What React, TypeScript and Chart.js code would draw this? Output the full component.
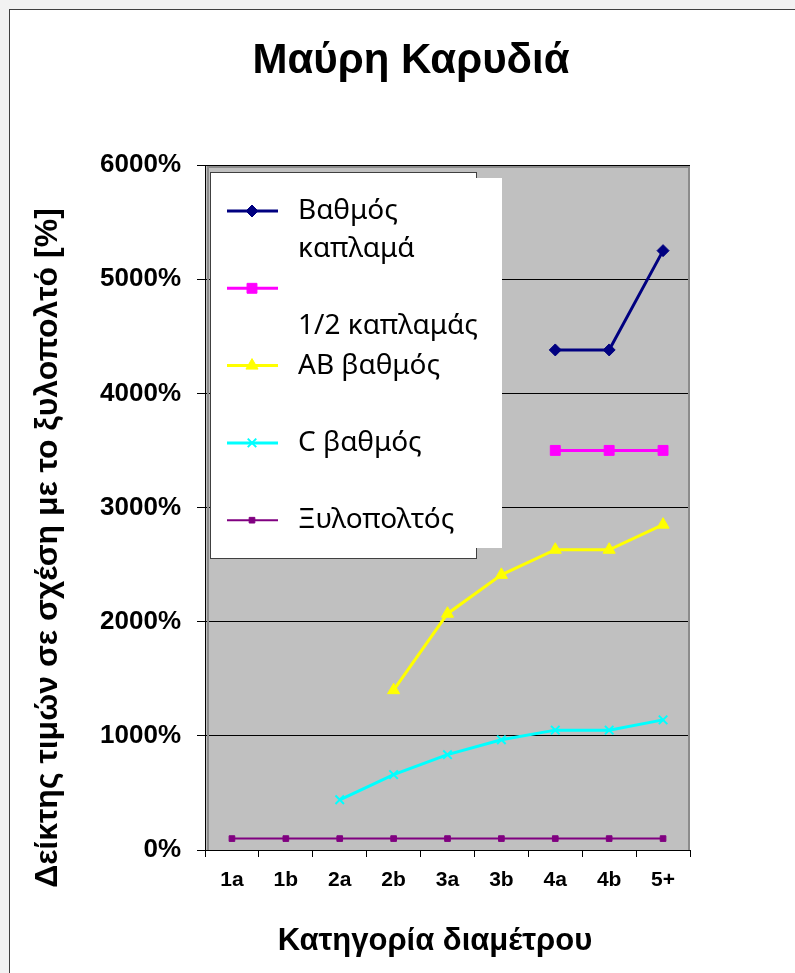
import React, { useEffect, useRef } from 'react';
import { Chart, registerables } from 'chart.js';
import { drawPoint } from 'chart.js/helpers';

Chart.register(...registerables);

const categories = ['1a', '1b', '2a', '2b', '3a', '3b', '4a', '4b', '5+'];
const veneerGrade = [null, null, null, null, null, null, 4380, 4380, 5250];
const halfVeneer = [null, null, null, null, null, null, 3500, 3500, 3500];
const abGrade = [null, null, null, 1400, 2070, 2410, 2630, 2630, 2850];
const cGrade = [null, null, 440, 660, 835, 965, 1050, 1050, 1140];
const pulpwood = [100, 100, 100, 100, 100, 100, 100, 100, 100];
const seriesNames = ['Βαθμός καπλαμά', '1/2 καπλαμάς', 'AB βαθμός', 'C βαθμός', 'Ξυλοπολτός'];
const legendLines = [['Βαθμός', 'καπλαμά'], ['', '1/2 καπλαμάς'], ['AB βαθμός'], ['C βαθμός'], ['Ξυλοπολτός']];
const yMin = 0;
const yMax = 6000;
const yStep = 1000;
const chartTitle = 'Μαύρη Καρυδιά';
const xTitle = 'Κατηγορία διαμέτρου';
const yTitle = 'Δείκτης τιμών σε σχέση με το ξυλοπολτό [%]';

const SANS = '"Liberation Sans", Arial, sans-serif';
const LEGEND_FONT = '"Noto Sans", "Open Sans", sans-serif';

const decor = {
  id: 'decor',
  beforeDraw(chart: any) {
    const { ctx, chartArea: a } = chart;
    ctx.save();
    ctx.fillStyle = '#C0C0C0';
    ctx.fillRect(a.left, a.top, a.right - a.left, a.bottom - a.top);
    ctx.restore();
  },
  afterDatasetsDraw(chart: any) {
    const { ctx, chartArea: a } = chart;
    ctx.save();
    // plot frame (gray)
    ctx.strokeStyle = '#8C8C8C';
    ctx.lineWidth = 2;
    ctx.beginPath();
    ctx.moveTo(a.left + 3, a.bottom);
    ctx.lineTo(a.left + 3, a.top + 2);
    ctx.lineTo(a.right - 1, a.top + 2);
    ctx.lineTo(a.right - 1, a.bottom);
    ctx.stroke();

    // legend
    ctx.fillStyle = '#FFFFFF';
    ctx.fillRect(210, 172, 266, 386);
    ctx.strokeStyle = '#404040';
    ctx.lineWidth = 1;
    ctx.strokeRect(210.5, 172.5, 266, 386);
    ctx.fillStyle = '#FFFFFF';
    ctx.fillRect(475, 178, 27, 370);

    chart.data.datasets.forEach((ds: any, i: number) => {
      const y = 211 + i * 77.3;
      ctx.strokeStyle = ds.borderColor;
      ctx.lineWidth = ds.borderWidth;
      ctx.beginPath();
      ctx.moveTo(227, y);
      ctx.lineTo(278, y);
      ctx.stroke();
      ctx.fillStyle = ds.pointBackgroundColor;
      ctx.strokeStyle = ds.pointBorderColor;
      ctx.lineWidth = ds.pointBorderWidth;
      drawPoint(ctx, { pointStyle: ds.pointStyle, radius: ds.pointRadius, rotation: 0, borderWidth: ds.pointBorderWidth }, 252, y);
      ctx.fillStyle = '#000';
      ctx.font = `28px ${LEGEND_FONT}`;
      ctx.textAlign = 'left';
      ctx.textBaseline = 'middle';
      legendLines[i].forEach((line, j) => {
        ctx.fillText(line, 298, y + j * 38);
      });
    });
    ctx.restore();
  },
  afterDraw(chart: any) {
    const { ctx } = chart;
    ctx.save();
    ctx.fillStyle = '#000';
    ctx.textAlign = 'center';
    ctx.textBaseline = 'alphabetic';
    ctx.font = `bold 42px ${SANS}`;
    ctx.fillText(chartTitle, 411, 73);
    ctx.font = `bold 31px ${SANS}`;
    ctx.fillText(xTitle, 435, 950);
    ctx.translate(57, 548);
    ctx.rotate(-Math.PI / 2);
    ctx.font = `bold 32px ${SANS}`;
    ctx.fillText(yTitle, 0, 0);
    ctx.restore();
  },
};

export default function App() {
  const ref = useRef<HTMLCanvasElement | null>(null);
  useEffect(() => {
    if (!ref.current) return;
    const mk = (label: string, data: any[], color: string, style: string, radius: number, width: number, pbw: number) => ({
      label,
      data,
      borderColor: color,
      backgroundColor: color,
      pointBackgroundColor: color,
      pointBorderColor: color,
      pointStyle: style,
      pointRadius: radius,
      pointBorderWidth: pbw,
      borderWidth: width,
      tension: 0,
      spanGaps: false,
      fill: false,
    });
    const chart = new Chart(ref.current, {
      type: 'line',
      data: {
        labels: categories,
        datasets: [
          mk(seriesNames[0], veneerGrade, '#000080', 'rectRot', 6, 3, 1),
          mk(seriesNames[1], halfVeneer, '#FF00FF', 'rect', 7, 3, 1),
          mk(seriesNames[2], abGrade, '#FFFF00', 'triangle', 7, 3, 1),
          mk(seriesNames[3], cGrade, '#00FFFF', 'crossRot', 6, 3, 2),
          mk(seriesNames[4], pulpwood, '#800080', 'rect', 4, 2, 1),
        ] as any,
      },
      options: {
        animation: false,
        responsive: false,
        layout: { padding: { top: 165, right: 105, bottom: 0, left: 0 } },
        plugins: {
          legend: { display: false },
          title: { display: false },
          tooltip: { enabled: false },
        },
        scales: {
          x: {
            type: 'category',
            offset: true,
            grid: { offset: true, drawOnChartArea: false, drawTicks: true, tickLength: 7, color: '#000', lineWidth: 1 },
            border: { color: '#000', width: 1 },
            ticks: { font: { family: SANS, size: 21, weight: 'bold' }, color: '#000', padding: 11, maxRotation: 0, autoSkip: false },
            afterFit: (s: any) => { s.height = 123; },
          },
          y: {
            min: yMin,
            max: yMax,
            ticks: { stepSize: yStep, callback: (v: any) => `${v}%`, font: { family: SANS, size: 26, weight: 'bold' }, color: '#000', padding: 16 },
            grid: { color: '#000', tickLength: 8, lineWidth: 1 },
            border: { color: '#000', width: 1 },
            afterFit: (s: any) => { s.width = 205; },
          },
        },
      } as any,
      plugins: [decor],
    });
    return () => chart.destroy();
  }, []);
  return (
    <div style={{ position: 'fixed', left: 0, top: 0, width: 795, height: 973, background: '#F2F2F2' }}>
      <div style={{ position: 'absolute', left: 9, top: 9, right: 0, bottom: 0, background: '#FFFFFF', borderLeft: '1px solid #404040', borderTop: '1px solid #404040' }} />
      <canvas ref={ref} width={795} height={973} style={{ position: 'absolute', left: 0, top: 0, width: 795, height: 973 }} />
    </div>
  );
}
